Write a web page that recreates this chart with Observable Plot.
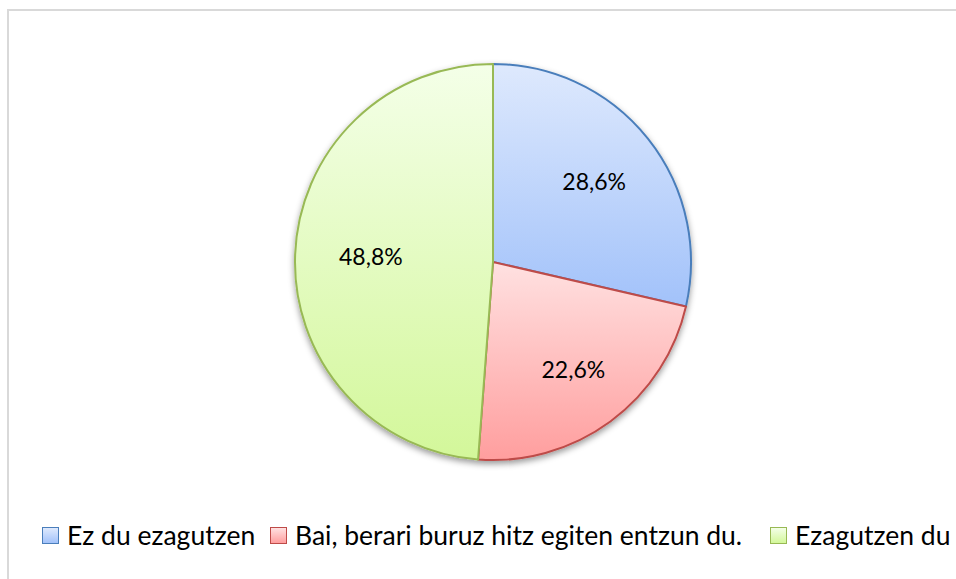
<!DOCTYPE html>
<html><head><meta charset="utf-8">
<script src="https://cdn.jsdelivr.net/npm/d3@7"></script>
<script src="https://cdn.jsdelivr.net/npm/@observablehq/plot@0.6"></script>
<style>
html,body{margin:0;padding:0;background:#fff;}
#wrap{position:relative;width:956px;height:579px;overflow:hidden;font-family:Lato,"Open Sans",sans-serif;}
#frame{position:absolute;left:7px;top:9px;width:1000px;height:700px;border:2px solid #d9d9d9;box-sizing:border-box;}
#chart{position:absolute;left:0;top:0;}
#legend{position:absolute;left:0;top:520px;width:956px;height:30px;font-size:26.5px;color:#000;}
.item{position:absolute;top:0;height:30px;display:flex;align-items:center;white-space:nowrap;}
.sw{width:17px;height:17px;border:1.5px solid;box-sizing:border-box;margin-right:8px;}
</style></head><body>
<div id="wrap"><div id="frame"></div><div id="chart"></div><div id="legend"></div></div>
<script>
const categories = ["Ez du ezagutzen", "Bai, berari buruz hitz egiten entzun du.", "Ezagutzen du"];
const values = [28.6, 22.6, 48.8];
const labels = ["28,6%", "22,6%", "48,8%"];
const strokes = ["#4a7ebb", "#be4b48", "#98b954"];
const gradTop = ["#dee9fd", "#ffe1e1", "#f4ffe8"];
const gradBottom = ["#a2c2fa", "#ff9e9e", "#d3f79a"];
const legendLeft = [42, 270, 770];

const data = categories.map((c, i) => ({category: c, value: values[i], label: labels[i], i}));
const arcs = d3.pie().sort(null).value(d => d.value)(data);

const W = 956, H = 500, CX = 493, CY = 262, R = 198;
const labelFrac = [0.65, 0.68, 0.62];
const labelData = arcs.map((a, i) => {
  const m = (a.startAngle + a.endAngle) / 2;
  return {x: labelFrac[i] * Math.sin(m), y: labelFrac[i] * Math.cos(m), text: a.data.label};
});

function pieMark(index, scales) {
  const x0 = scales.x(0), y0 = scales.y(0), r = scales.x(1) - x0;
  const arc = d3.arc().innerRadius(0).outerRadius(r);
  const g = d3.create("svg:g");
  const defs = g.append("defs");
  arcs.forEach((a, i) => {
    const lg = defs.append("linearGradient").attr("id", "grad" + i).attr("x1", 0).attr("y1", 0).attr("x2", 0).attr("y2", 1);
    lg.append("stop").attr("offset", "0%").attr("stop-color", gradTop[i]);
    lg.append("stop").attr("offset", "100%").attr("stop-color", gradBottom[i]);
  });
  const f = defs.append("filter").attr("id", "shadow").attr("x", "-20%").attr("y", "-20%").attr("width", "140%").attr("height", "140%");
  f.append("feDropShadow").attr("dx", 0).attr("dy", 3).attr("stdDeviation", 3).attr("flood-color", "#000").attr("flood-opacity", 0.4);
  const pg = g.append("g").attr("transform", `translate(${x0},${y0})`).attr("filter", "url(#shadow)");
  pg.selectAll("path").data(arcs).join("path")
    .attr("d", arc)
    .attr("fill", (d, i) => `url(#grad${i})`)
    .attr("stroke", (d, i) => strokes[i])
    .attr("stroke-width", 2)
    .attr("stroke-linejoin", "round");
  return g.node();
}

const plot = Plot.plot({
  width: W, height: H,
  margin: 0,
  style: {fontFamily: "Lato, 'Open Sans', sans-serif", background: "transparent"},
  x: {domain: [-CX / R, (W - CX) / R], axis: null},
  y: {domain: [-(H - CY) / R, CY / R], axis: null},
  marks: [
    pieMark,
    Plot.text(labelData, {x: "x", y: "y", text: "text", fontSize: 23, fill: "#000"})
  ]
});
document.getElementById("chart").appendChild(plot);

const legend = document.getElementById("legend");
categories.forEach((c, i) => {
  const it = document.createElement("div");
  it.className = "item";
  it.style.left = legendLeft[i] + "px";
  const sw = document.createElement("div");
  sw.className = "sw";
  sw.style.borderColor = strokes[i];
  sw.style.background = `linear-gradient(${gradTop[i]}, ${gradBottom[i]})`;
  const t = document.createElement("span");
  t.textContent = c;
  it.appendChild(sw); it.appendChild(t);
  legend.appendChild(it);
});
</script>
</body></html>
